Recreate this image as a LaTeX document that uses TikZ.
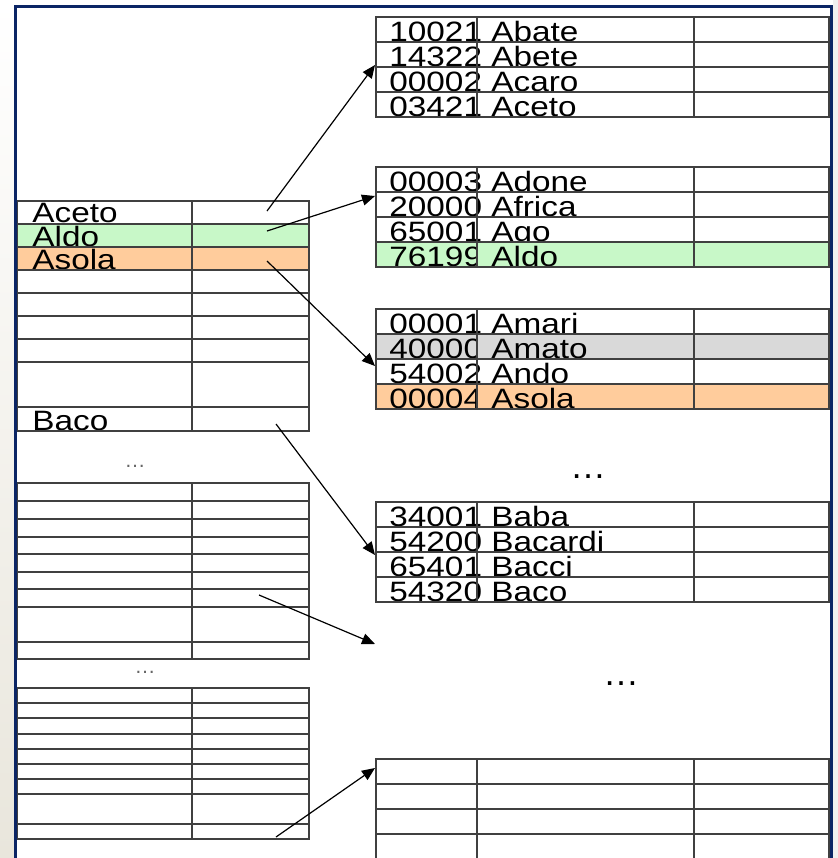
\documentclass[tikz,border=0pt]{standalone}
\usepackage{fontspec}
\setmainfont{Liberation Sans}[FakeStretch=1.19]
\newfontfamily\dotsfont{Liberation Sans}
\usetikzlibrary{arrows.meta}
\definecolor{frameblue}{HTML}{0B2565}
\definecolor{rowgreen}{HTML}{C8F8C8}
\definecolor{roworange}{HTML}{FFCC9C}
\definecolor{rowgray}{HTML}{D9D9D9}
\definecolor{sidebeige}{HTML}{E9E6DC}
\def\bucket(#1){\draw[tabline] (376,#1) rectangle (829,#1+100) (477,#1) -- (477,#1+100) (694,#1) -- (694,#1+100) (376,#1+25) -- (829,#1+25) (376,#1+50) -- (829,#1+50) (376,#1+75) -- (829,#1+75);}
\def\entry(#1)#2#3{\node[cell] (k#2) at (389,#1) {#2}; \node[cell] (w#2) at (491,#1) {#3};}

\begin{document}
\begin{tikzpicture}[x=0.5pt, y=-0.5pt,
		tabline/.style={line width=0.8pt, color=black!75},
		cell/.style={anchor=base west, inner sep=0pt, font=\fontsize{14pt}{16pt}\selectfont},
		ptr/.style={line width=0.6pt, -{Triangle[length=6.5pt,width=5.5pt]}}]
		%%%%% START %%%%%
		
		\useasboundingbox (0,0) rectangle (838,858);
		\shade[top color=white, bottom color=sidebeige] (0,0) rectangle (14,858);
		\fill[black!6] (833,0) rectangle (838,858);
		
		% index on the left
		\fill[rowgreen] (17,224) rectangle (309,247);
		\fill[roworange] (17,247) rectangle (309,270);
		\node[cell] (lAceto) at (32,222.5) {Aceto};
		\node[cell] (lAldo) at (32,246) {Aldo};
		\node[cell] (lAsola) at (32,269) {Asola};
		\node[cell] (lBaco) at (32,430) {Baco};
		\draw[tabline] (17,201) rectangle (309,431) (192,201) -- (192,431) (17,224) -- (309,224) (17,247) -- (309,247) (17,270) -- (309,270) (17,293) -- (309,293) (17,316) -- (309,316) (17,339) -- (309,339) (17,362) -- (309,362) (17,407) -- (309,407);
		\node[anchor=base, inner sep=0pt, text=black!60, font=\dotsfont\fontsize{10.5pt}{12pt}\selectfont] (ldots1) at (135,467) {\dots};
		\draw[tabline] (17,483) rectangle (309,659) (192,483) -- (192,659) (17,501) -- (309,501) (17,519) -- (309,519) (17,537) -- (309,537) (17,554) -- (309,554) (17,572) -- (309,572) (17,589) -- (309,589) (17,607) -- (309,607) (17,642) -- (309,642);
		\node[anchor=base, inner sep=0pt, text=black!60, font=\dotsfont\fontsize{10.5pt}{12pt}\selectfont] (ldots2) at (145,673) {\dots};
		\draw[tabline] (17,688) rectangle (309,839) (192,688) -- (192,839) (17,703) -- (309,703) (17,718) -- (309,718) (17,734) -- (309,734) (17,749) -- (309,749) (17,764) -- (309,764) (17,779) -- (309,779) (17,794) -- (309,794) (17,824) -- (309,824);
		
		% data pages on the right
		\entry(41){10021}{Abate}
		\entry(66){14322}{Abete}
		\entry(91){00002}{Acaro}
		\entry(116){03421}{Aceto}
		\bucket(17)
		
		\entry(191){00003}{Adone}
		\entry(216){20000}{Africa}
		\entry(241){65001}{Ago}
		\fill[rowgreen] (376,242) rectangle (829,267);
		\node[cell] (k76199) at (389,266) {76199};
		\fill[rowgreen] (477,242) rectangle (829,267);
		\node[cell] (w76199) at (491,266) {Aldo};
		\bucket(167)
		
		\entry(333){00001}{Amari}
		\fill[rowgray] (376,334) rectangle (829,359);
		\node[cell] (k40000) at (389,358) {40000};
		\fill[rowgray] (477,334) rectangle (829,359);
		\node[cell] (w40000) at (491,358) {Amato};
		\entry(383){54002}{Ando}
		\fill[roworange] (376,384) rectangle (829,409);
		\node[cell] (k00004) at (389,408) {00004};
		\fill[roworange] (477,384) rectangle (829,409);
		\node[cell] (w00004) at (491,408) {Asola};
		\bucket(309)
		
		\node[anchor=base, inner sep=0pt, font=\dotsfont\fontsize{18pt}{20pt}\selectfont] (rdots1) at (588,478) {\dots};
		
		\entry(526){34001}{Baba}
		\entry(551){54200}{Bacardi}
		\entry(576){65401}{Bacci}
		\entry(601){54320}{Baco}
		\bucket(502)
		
		\node[anchor=base, inner sep=0pt, font=\dotsfont\fontsize{18pt}{20pt}\selectfont] (rdots2) at (621,685) {\dots};
		
		\bucket(759)
		
		% pointers
		\coordinate (s1) at (267,211);
		\coordinate (t1) at (375,65);
		\coordinate (s2) at (267,231);
		\coordinate (t2) at (375,196);
		\coordinate (s3) at (267,261);
		\coordinate (t3) at (375,366);
		\coordinate (s4) at (276,424);
		\coordinate (t4) at (375,555);
		\coordinate (s5) at (259,595);
		\coordinate (t5) at (375,644);
		\coordinate (s6) at (276,837);
		\coordinate (t6) at (375,768);
		\draw[ptr] (s1) -- (t1);
		\draw[ptr] (s2) -- (t2);
		\draw[ptr] (s3) -- (t3);
		\draw[ptr] (s4) -- (t4);
		\draw[ptr] (s5) -- (t5);
		\draw[ptr] (s6) -- (t6);
		
		\draw[line width=1.5pt, color=frameblue] (15.5,870) -- (15.5,6) -- (831.5,6) -- (831.5,870);
		
		%%%%% END %%%%%
\end{tikzpicture}
\end{document}
